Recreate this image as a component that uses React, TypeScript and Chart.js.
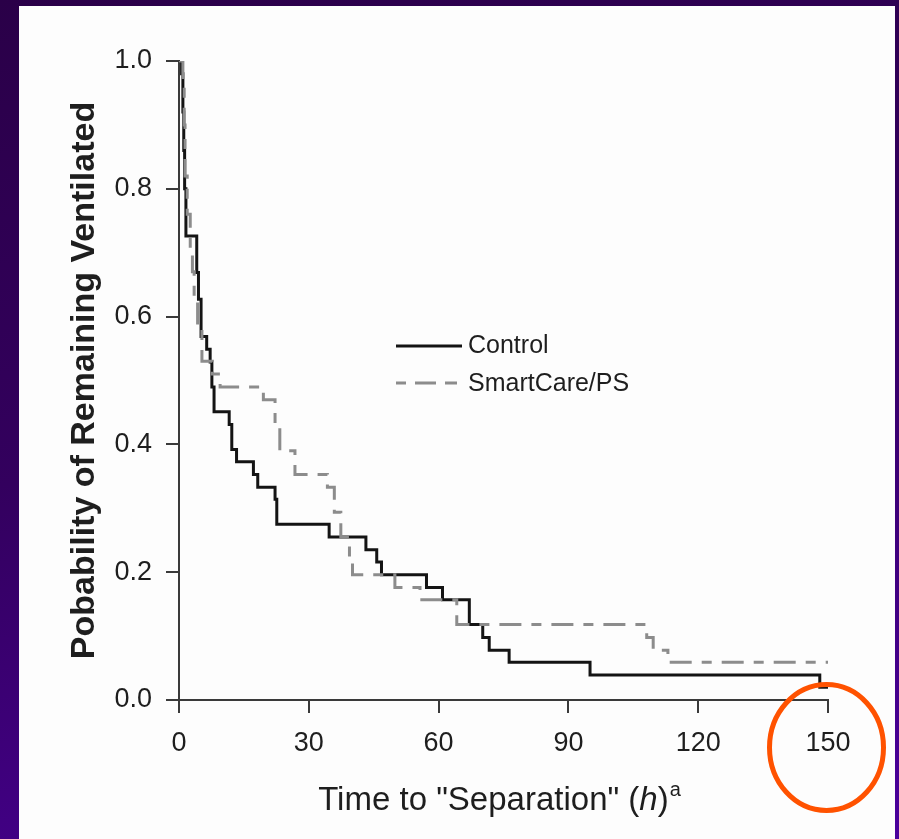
import React, { useEffect, useRef } from 'react';
import { Chart, registerables } from 'chart.js';

Chart.register(...registerables);

// ---- data ----
const xTicks = [0, 30, 60, 90, 120, 150];
const yTicks = [0, 0.2, 0.4, 0.6, 0.8, 1.0];

const seriesLabels = ['Control', 'SmartCare/PS'];

const controlTimes = [0, 0.6, 0.9, 1.1, 1.3, 1.6, 4.1, 4.5, 5.1, 6.4, 7.2, 7.6, 8.1, 11.6, 12.2, 13.3, 17.2, 18.2, 22.2, 22.6, 34.7, 43.2, 45.7, 46.8, 57.2, 60.9, 67.1, 70.2, 71.7, 76.3, 95.0, 148.1, 150];
const controlProb = [1.0, 0.98, 0.92, 0.86, 0.8, 0.726, 0.669, 0.627, 0.569, 0.549, 0.529, 0.49, 0.451, 0.431, 0.392, 0.373, 0.353, 0.333, 0.314, 0.275, 0.255, 0.235, 0.216, 0.196, 0.176, 0.157, 0.118, 0.098, 0.078, 0.059, 0.039, 0.02, 0.02];

const smartTimes = [0, 0.9, 1.2, 1.4, 1.9, 2.6, 3.1, 3.5, 4.3, 5.3, 7.7, 9.5, 19.5, 22.2, 23.3, 26.8, 34.3, 35.9, 37.4, 39.4, 40.1, 49.9, 55.7, 64.2, 108.1, 109.6, 113.0, 150];
const smartProb = [1.0, 0.96, 0.9, 0.82, 0.76, 0.7, 0.67, 0.63, 0.59, 0.53, 0.51, 0.49, 0.47, 0.43, 0.39, 0.353, 0.333, 0.294, 0.255, 0.216, 0.196, 0.176, 0.157, 0.118, 0.098, 0.078, 0.059, 0.059];

const yTitle = 'Pobability of Remaining Ventilated';
const xTitleMain = 'Time to "Separation" (';
const xTitleItalic = 'h';
const xTitleClose = ')';
const xTitleSup = 'a';

const FONT = "'Liberation Sans', Arial, Helvetica, sans-serif";
const AXIS_COLOR = '#3a3a3a';
const TEXT_COLOR = '#1e1e1e';
const CONTROL_COLOR = '#141414';
const SMART_COLOR = '#8c8c8c';
const SMART_DASH = [22, 10, 10, 10];

const decorPlugin = {
  id: 'decor',
  afterDraw(chart: any) {
    const ctx = chart.ctx as CanvasRenderingContext2D;
    const area = chart.chartArea;
    ctx.save();
    ctx.fillStyle = TEXT_COLOR;

    // Y axis title (rotated, bold)
    ctx.save();
    ctx.translate(85, (area.top + area.bottom) / 2);
    ctx.rotate(-Math.PI / 2);
    ctx.font = `bold 34px ${FONT}`;
    ctx.textAlign = 'center';
    ctx.textBaseline = 'middle';
    ctx.fillText(yTitle, 0, 0);
    ctx.restore();

    // X axis title with italic h and superscript a
    const fMain = `33px ${FONT}`;
    const fItal = `italic 33px ${FONT}`;
    const fSup = `20px ${FONT}`;
    ctx.textBaseline = 'alphabetic';
    ctx.textAlign = 'left';
    ctx.font = fMain;
    const w1 = ctx.measureText(xTitleMain).width;
    const w3 = ctx.measureText(xTitleClose).width;
    ctx.font = fItal;
    const w2 = ctx.measureText(xTitleItalic).width;
    ctx.font = fSup;
    const w4 = ctx.measureText(xTitleSup).width;
    const total = w1 + w2 + w3 + w4 + 1;
    let x = (area.left + area.right) / 2 - 4 - total / 2;
    const base = 810;
    ctx.font = fMain;
    ctx.fillText(xTitleMain, x, base);
    x += w1;
    ctx.font = fItal;
    ctx.fillText(xTitleItalic, x, base);
    x += w2;
    ctx.font = fMain;
    ctx.fillText(xTitleClose, x, base);
    x += w3 + 1;
    ctx.font = fSup;
    ctx.fillText(xTitleSup, x, base - 14);

    // Legend
    ctx.lineWidth = 3;
    ctx.strokeStyle = CONTROL_COLOR;
    ctx.setLineDash([]);
    ctx.beginPath();
    ctx.moveTo(396, 346);
    ctx.lineTo(462, 346);
    ctx.stroke();
    ctx.strokeStyle = SMART_COLOR;
    ctx.setLineDash([10, 9, 21, 9, 12, 100]);
    ctx.beginPath();
    ctx.moveTo(396, 383);
    ctx.lineTo(458, 383);
    ctx.stroke();
    ctx.setLineDash([]);
    ctx.font = `25px ${FONT}`;
    ctx.textBaseline = 'middle';
    ctx.textAlign = 'left';
    ctx.fillStyle = TEXT_COLOR;
    ctx.fillText(seriesLabels[0], 468, 346);
    ctx.fillText(seriesLabels[1], 468, 384);

    // Orange highlight circle
    ctx.strokeStyle = '#ff5200';
    ctx.lineWidth = 5;
    ctx.beginPath();
    ctx.ellipse(826.5, 747.5, 57, 63, 0, 0, Math.PI * 2);
    ctx.stroke();
    ctx.restore();
  },
};

export default function App() {
  const ref = useRef<HTMLCanvasElement | null>(null);

  useEffect(() => {
    document.body.style.margin = '0';
    const canvas = ref.current;
    if (!canvas) return;
    const chart = new Chart(canvas, {
      type: 'line',
      data: {
        datasets: [
          {
            label: seriesLabels[1],
            data: smartTimes.map((t, i) => ({ x: t, y: smartProb[i] })),
            borderColor: SMART_COLOR,
            borderWidth: 3,
            borderDash: SMART_DASH,
            stepped: true,
            pointRadius: 0,
            fill: false,
          },
          {
            label: seriesLabels[0],
            data: controlTimes.map((t, i) => ({ x: t, y: controlProb[i] })),
            borderColor: CONTROL_COLOR,
            borderWidth: 3,
            stepped: true,
            pointRadius: 0,
            fill: false,
          },
        ],
      },
      options: {
        animation: false,
        responsive: false,
        devicePixelRatio: 1,
        layout: { padding: { top: 61, right: 71, left: 0, bottom: 0 } },
        plugins: {
          legend: { display: false },
          tooltip: { enabled: false },
          title: { display: false },
        },
        scales: {
          x: {
            type: 'linear',
            min: 0,
            max: 150,
            afterBuildTicks: (s: any) => {
              s.ticks = xTicks.map((v) => ({ value: v }));
            },
            afterFit: (s: any) => {
              s.height = 139;
            },
            border: { display: true, color: AXIS_COLOR, width: 2 },
            grid: {
              display: true,
              drawOnChartArea: false,
              drawTicks: true,
              tickLength: 13,
              color: AXIS_COLOR,
              lineWidth: 2,
            },
            ticks: {
              color: TEXT_COLOR,
              font: { family: FONT, size: 27 },
              padding: 14,
              maxRotation: 0,
              callback: (v: any) => String(v),
            },
          },
          y: {
            type: 'linear',
            min: 0,
            max: 1,
            afterBuildTicks: (s: any) => {
              s.ticks = yTicks.map((v) => ({ value: v }));
            },
            afterFit: (s: any) => {
              s.width = 179;
            },
            border: { display: true, color: AXIS_COLOR, width: 2 },
            grid: {
              display: true,
              drawOnChartArea: false,
              drawTicks: true,
              tickLength: 13,
              color: AXIS_COLOR,
              lineWidth: 2,
            },
            ticks: {
              color: TEXT_COLOR,
              font: { family: FONT, size: 27 },
              padding: 14,
              callback: (v: any) => Number(v).toFixed(1),
            },
          },
        },
      },
      plugins: [decorPlugin],
    } as any);
    return () => chart.destroy();
  }, []);

  return (
    <div
      style={{
        position: 'relative',
        width: 899,
        height: 839,
        overflow: 'hidden',
        background: 'linear-gradient(165deg, #2a0048 0%, #33005e 45%, #4a009c 100%)',
      }}
    >
      <div
        style={{
          position: 'absolute',
          left: 19,
          top: 6,
          width: 876,
          height: 833,
          background: '#fdfdfd',
        }}
      />
      <canvas
        ref={ref}
        width={899}
        height={839}
        style={{ position: 'absolute', left: 0, top: 0, width: 899, height: 839 }}
      />
    </div>
  );
}
